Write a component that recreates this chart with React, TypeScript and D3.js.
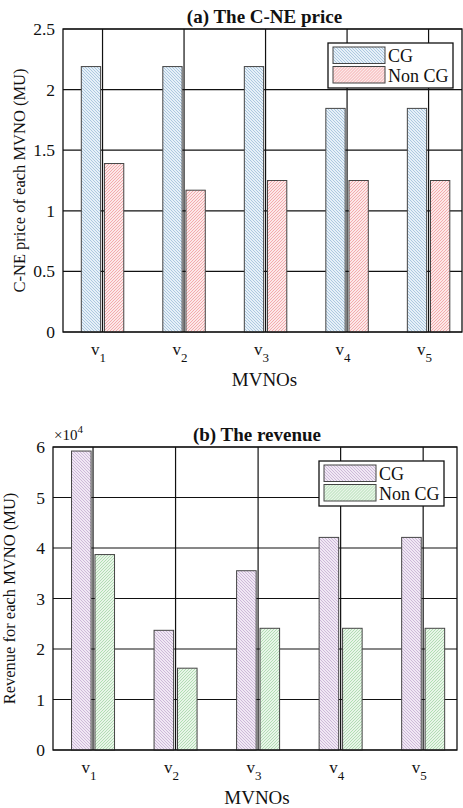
import React from "react";
import * as d3 from "d3";

const mvnos = ["1", "2", "3", "4", "5"];
const priceCG = [2.19, 2.19, 2.19, 1.845, 1.845];
const priceNonCG = [1.39, 1.17, 1.25, 1.25, 1.25];
const priceTicks = [0, 0.5, 1, 1.5, 2, 2.5];
const revenueCG = [59200, 23700, 35500, 42100, 42100];
const revenueNonCG = [38700, 16200, 24100, 24100, 24100];
const revenueTicks = [0, 10000, 20000, 30000, 40000, 50000, 60000];
const seriesNames = ["CG", "Non CG"];

const FONT = "'Liberation Serif', 'Times New Roman', serif";

// hatch pattern: bg colour, line colour, direction
const Hatch = ({ id, bg, line, back }) => (
  <pattern id={id} width={3} height={3} patternUnits="userSpaceOnUse">
    <rect width={3} height={3} fill={bg} />
    {back ? (
      <path d="M-1,-1 L4,4 M-1,2 L1,4 M2,-1 L4,1" stroke={line} strokeWidth={0.9} />
    ) : (
      <path d="M-1,4 L4,-1 M-1,1 L1,-1 M2,4 L4,2" stroke={line} strokeWidth={0.9} />
    )}
  </pattern>
);

const Panel = ({ title, yLabel, a, b, ticks, yMax, tickFmt, fills, box, legend, exponent }) => {
  const { left, right, top, bottom } = box;
  const x = d3.scaleLinear().domain([0.515, 5.41]).range([left, right]);
  const y = d3.scaleLinear().domain([0, yMax]).range([bottom, top]);
  const off = 0.142;
  const bw = 0.237;
  const w = x(bw) - x(0);
  const bx = (i, s) => x(i + 1 + s * off) - w / 2;
  const cx = (left + right) / 2;
  return (
    <g fontFamily={FONT}>
      <rect x={left} y={top} width={right - left} height={bottom - top} fill="white" />
      {ticks.map((t) => (
        <line key={"h" + t} x1={left} x2={right} y1={y(t)} y2={y(t)} stroke="#111" strokeWidth={1.2} />
      ))}
      {mvnos.map((m, i) => (
        <line key={"v" + m} x1={x(i + 1)} x2={x(i + 1)} y1={top} y2={bottom} stroke="#111" strokeWidth={1.2} />
      ))}
      {[a, b].map((vals, s) =>
        vals.map((v, i) => (
          <rect
            key={s + "-" + i}
            x={bx(i, s === 0 ? -1 : 1)}
            y={y(v)}
            width={w}
            height={bottom - y(v)}
            fill={`url(#${fills[s]})`}
            stroke="#444"
            strokeWidth={1}
          />
        ))
      )}
      <rect x={left} y={top} width={right - left} height={bottom - top} fill="none" stroke="#111" strokeWidth={1.3} />
      {ticks.map((t) => (
        <text key={"t" + t} x={left - 8} y={y(t) + 6} fontSize={17.5} textAnchor="end" fill="#111">
          {tickFmt(t)}
        </text>
      ))}
      {mvnos.map((m, i) => (
        <text key={"x" + m} x={x(i + 1) - 4} y={bottom + 23} fontSize={17} textAnchor="middle" fill="#111">
          v
          <tspan fontSize={13} dy={7}>
            {m}
          </tspan>
        </text>
      ))}
      <text x={cx + 2} y={bottom + 54} fontSize={19} textAnchor="middle" fill="#111">
        MVNOs
      </text>
      <text x={cx + 2} y={top - 6} fontSize={19} fontWeight="bold" textAnchor="middle" fill="#111">
        {title}
      </text>
      <text
        transform={`translate(${left - 38},${(top + bottom) / 2}) rotate(-90)`}
        fontSize={16.5}
        textAnchor="middle"
        fill="#111"
      >
        {yLabel}
      </text>
      {exponent && (
        <text x={left + 1} y={top - 7} fontSize={15} fill="#111">
          ×10
          <tspan fontSize={11} dy={-7}>
            {exponent}
          </tspan>
        </text>
      )}
      <g transform={`translate(${legend.x},${legend.y})`}>
        <rect width={legend.w} height={45} fill="white" stroke="#111" strokeWidth={1.3} />
        {seriesNames.map((n, s) => (
          <g key={n} transform={`translate(5,${4 + s * 19.5})`}>
            <rect width={52} height={16.5} fill={`url(#${fills[s]})`} stroke="#444" strokeWidth={1} />
            <text x={55} y={15} fontSize={18} fill="#111">
              {n}
            </text>
          </g>
        ))}
      </g>
    </g>
  );
};

export default function App() {
  return (
    <svg
      width={463}
      height={808}
      style={{ position: "absolute", left: 0, top: 0, background: "white" }}
    >
      <defs>
        <Hatch id="hBlue" bg="#e6f0f8" line="#a6c4de" back={true} />
        <Hatch id="hRed" bg="#fce8e8" line="#f2a4a6" back={false} />
        <Hatch id="hPurple" bg="#f0e8f4" line="#c9b2d6" back={true} />
        <Hatch id="hGreen" bg="#e8f5e8" line="#acdaae" back={false} />
      </defs>
      <Panel
        title="(a) The C-NE price"
        yLabel="C-NE price of each MVNO (MU)"
        a={priceCG}
        b={priceNonCG}
        ticks={priceTicks}
        yMax={2.5}
        tickFmt={(t) => String(t)}
        fills={["hBlue", "hRed"]}
        box={{ left: 63, right: 462, top: 29, bottom: 332 }}
        legend={{ x: 328, y: 43, w: 125 }}
      />
      <Panel
        title="(b) The revenue"
        yLabel="Revenue for each MVNO (MU)"
        a={revenueCG}
        b={revenueNonCG}
        ticks={revenueTicks}
        yMax={60000}
        tickFmt={(t) => String(t / 10000)}
        fills={["hPurple", "hGreen"]}
        box={{ left: 53, right: 457, top: 447, bottom: 750 }}
        legend={{ x: 319, y: 461, w: 125 }}
        exponent="4"
      />
    </svg>
  );
}
